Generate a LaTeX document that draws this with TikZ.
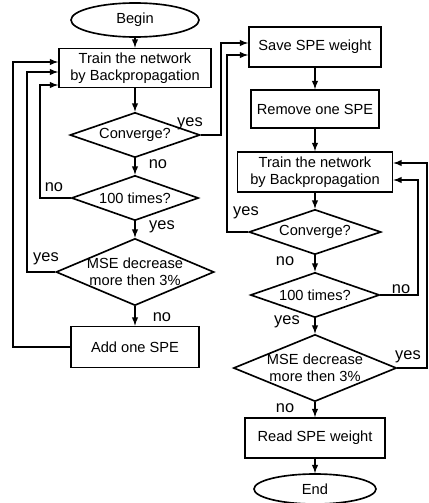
\documentclass[tikz,border=0pt]{standalone}
\usepackage{fontspec}
\setmainfont{Liberation Sans}
\usetikzlibrary{shapes.geometric}

\begin{document}
\begin{tikzpicture}[x=0.03cm, y=-0.03cm, line width=1.4pt,
    every node/.style={font=\fontsize{12.5}{14.5}\selectfont},
    proc/.style={draw, rectangle, align=center, inner sep=0pt},
    decide/.style={draw, diamond, align=center, aspect=2.5, inner xsep=-3pt, inner ysep=-1pt},
    term/.style={draw, ellipse, inner sep=0pt},
    ans/.style={font=\fontsize{14}{16}\selectfont, inner sep=0pt}]
    \useasboundingbox (0,0) rectangle (429,503);
    % left column
    \node[term, minimum width=3.84cm, minimum height=1.02cm] (begin) at (135,20) {Begin};
    \node[proc, minimum width=4.56cm, minimum height=1.17cm] (train) at (135,68) {Train the network\\by Backpropagation};
    \node[decide, minimum width=3.9cm, minimum height=1.35cm] (conv) at (135,135) {Converge?};
    \node[decide, minimum width=3.81cm, minimum height=1.35cm] (times) at (135,198) {100 times?};
    \node[decide, minimum width=4.74cm, minimum height=2.01cm] (mse) at (135,272) {MSE decrease\\more then 3\%};
    \node[proc, minimum width=3.84cm, minimum height=1.23cm] (add) at (135,347) {Add one SPE};
    % right column
    \node[proc, minimum width=3.96cm, minimum height=1.2cm] (save) at (315,47) {Save SPE weight};
    \node[proc, minimum width=3.84cm, minimum height=1.14cm] (remove) at (315,109) {Remove one SPE};
    \node[proc, minimum width=4.65cm, minimum height=1.2cm] (trainb) at (315,172) {Train the network\\by Backpropagation};
    \node[decide, minimum width=3.96cm, minimum height=1.35cm] (convb) at (315,232) {Converge?};
    \node[decide, minimum width=3.87cm, minimum height=1.35cm] (timesb) at (315,295) {100 times?};
    \node[decide, minimum width=4.89cm, minimum height=2.01cm] (mseb) at (315,368) {MSE decrease\\more then 3\%};
    \node[proc, minimum width=4.2cm, minimum height=1.2cm] (read) at (315,438) {Read SPE weight};
    \node[term, minimum width=3.66cm, minimum height=0.9cm] (finish) at (315,489) {End};
    % answers
    \node[ans] (convyes) at (190,124) {yes};
    \node[ans] (convno) at (158,164) {no};
    \node[ans] (timesno) at (54,187) {no};
    \node[ans] (timesyes) at (162,227) {yes};
    \node[ans] (mseyes) at (46,259) {yes};
    \node[ans] (mseno) at (162,317) {no};
    \node[ans] (convbyes) at (246,213) {yes};
    \node[ans] (convbno) at (285,261) {no};
    \node[ans] (timesbno) at (401,289) {no};
    \node[ans] (timesbyes) at (287,322) {yes};
    \node[ans] (msebyes) at (408,357) {yes};
    \node[ans] (msebno) at (285,408) {no};
    % straight flow
    \draw[-latex] (begin) -- (train);
    \draw[-latex] (train) -- (conv);
    \draw[-latex] (conv) -- (times);
    \draw[-latex] (times) -- (mse);
    \draw[-latex] (mse) -- (add);
    \draw[-latex] (save) -- (remove);
    \draw[-latex] (remove) -- (trainb);
    \draw[-latex] (trainb) -- (convb);
    \draw[-latex] (convb) -- (timesb);
    \draw[-latex] (timesb) -- (mseb);
    \draw[-latex] (mseb) -- (read);
    \draw[-latex] (read) -- (finish);
    % loops
    \coordinate (up1) at (221,43);
    \coordinate (up2) at (227,55);
    \coordinate (back1) at (13,62);
    \coordinate (back2) at (27,72);
    \coordinate (back3) at (40,85);
    \coordinate (back4) at (418,180);
    \coordinate (back5) at (427,163);
    \draw[-latex] (conv.east) -| (up1) -- (up1 -| save.west);
    \draw[-latex] (convb.west) -| (up2) -- (up2 -| save.west);
    \draw[-latex] (add.west) -| (back1) -- (back1 -| train.west);
    \draw[-latex] (mse.west) -| (back2) -- (back2 -| train.west);
    \draw[-latex] (times.west) -| (back3) -- (back3 -| train.west);
    \draw[-latex] (timesb.east) -| (back4) -- (back4 -| trainb.east);
    \draw[-latex] (mseb.east) -| (back5) -- (back5 -| trainb.east);
\end{tikzpicture}
\end{document}
